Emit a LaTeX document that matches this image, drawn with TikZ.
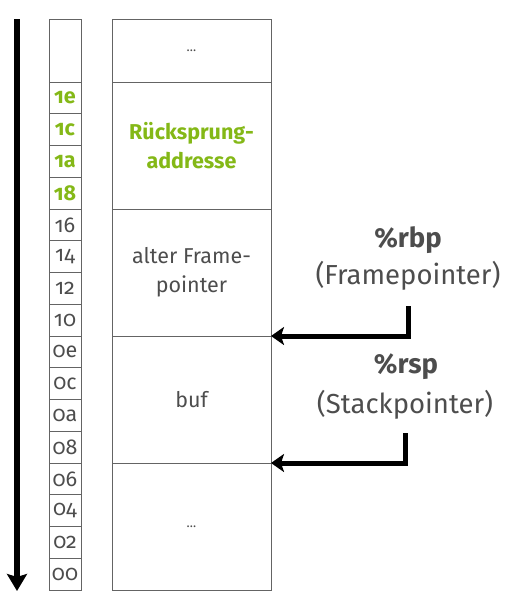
\documentclass[tikz,border=0pt]{standalone}
\usepackage{fontspec}
\setmainfont[Numbers=OldStyle]{Fira Sans}
\usetikzlibrary{positioning,arrows.meta}
\definecolor{stackgreen}{RGB}{132,184,23}
\definecolor{stackgray}{RGB}{77,77,77}
\definecolor{framegray}{RGB}{100,100,100}

\begin{document}
\begin{tikzpicture}[
    x=1pt, y=-1pt,
    addr/.style={draw=framegray, line width=1pt, outer sep=0pt, inner sep=0pt,
        minimum width=32pt, minimum height=31.75pt, text=stackgray,
        font=\fontsize{21.5}{21.5}\selectfont},
    ret/.style={addr, text=stackgreen, font=\fontsize{21.5}{21.5}\selectfont\bfseries},
    cell/.style={draw=framegray, line width=1pt, outer sep=0pt, inner sep=0pt,
        minimum width=159pt, minimum height=127pt, text=stackgray, align=center,
        font=\fontsize{21.5}{29}\selectfont},
    reg/.style={text=stackgray, align=center, font=\fontsize{27.5}{30}\selectfont},
    time/.style={line width=6pt, -{Stealth[length=17pt,width=20pt,inset=3pt]}},
    ptr/.style={line width=5pt, -{Stealth[length=13pt,width=18pt,inset=3pt]}}
    ]

\useasboundingbox (0,0) rectangle (508,608);

% Zeitachse
\coordinate (ttop) at (17,19);
\coordinate (tbot) at (17,591);
\draw[time] (ttop) -- (tbot);

% Adressen
\node[addr, minimum height=63pt, anchor=north] (a20) at (65,19) {};
\node[ret, below=0pt of a20] (a1e) {1e};
\node[ret, below=0pt of a1e] (a1c) {1c};
\node[ret, below=0pt of a1c] (a1a) {1a};
\node[ret, below=0pt of a1a] (a18) {18};
\node[addr, below=0pt of a18] (a16) {16};
\node[addr, below=0pt of a16] (a14) {14};
\node[addr, below=0pt of a14] (a12) {12};
\node[addr, below=0pt of a12] (a10) {10};
\node[addr, below=0pt of a10] (a0e) {0e};
\node[addr, below=0pt of a0e] (a0c) {0c};
\node[addr, below=0pt of a0c] (a0a) {0a};
\node[addr, below=0pt of a0a] (a08) {08};
\node[addr, below=0pt of a08] (a06) {06};
\node[addr, below=0pt of a06] (a04) {04};
\node[addr, below=0pt of a04] (a02) {02};
\node[addr, below=0pt of a02] (a00) {00};

% Stack
\node[cell, minimum height=63pt, anchor=north] (top) at (191.5,19) {\fontsize{13}{13}\selectfont\dots};
\node[cell, below=0pt of top, text=stackgreen, font=\fontsize{21.5}{29}\selectfont\bfseries] (ret) {Rücksprung-\\addresse};
\node[cell, below=0pt of ret] (frame) {alter Frame-\\pointer};
\node[cell, below=0pt of frame] (buf) {buf};
\node[cell, below=0pt of buf] (bottom) {\fontsize{13}{13}\selectfont\dots};

% Register
\node[reg] (rbp) at (408,240) {\bfseries\%rbp};
\node[reg] (fp) at (408,276) {(Framepointer)};
\node[reg] (rsp) at (406,367) {\bfseries\%rsp};
\node[reg] (sp) at (405,405) {(Stackpointer)};

\draw[ptr] ([yshift=-12pt]fp.south) |- (frame.south east);
\draw[ptr] ([yshift=-10pt]sp.south) |- (buf.south east);
\end{tikzpicture}
\end{document}
